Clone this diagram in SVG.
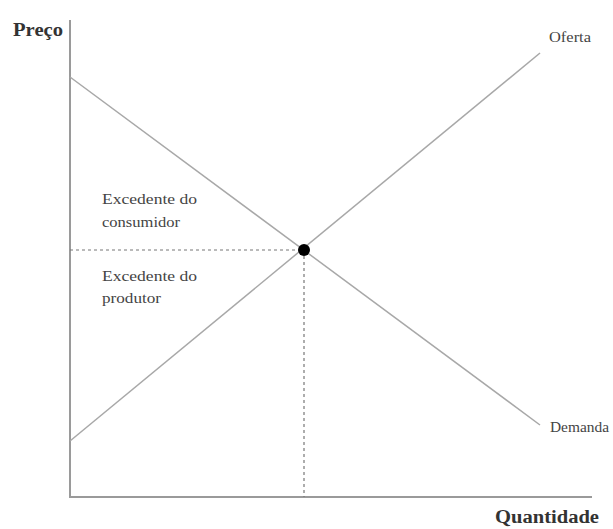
<svg xmlns="http://www.w3.org/2000/svg" width="613" height="529" viewBox="0 0 613 529">
<style>
.ax{stroke:#9a9a9a;stroke-width:2;fill:none}
.ln{stroke:#a8a8a8;stroke-width:1.5;fill:none}
.dash{stroke:#777;stroke-width:1.2;stroke-dasharray:3,3;fill:none}
.t{font-family:"Liberation Serif",serif;font-size:14px;fill:#444}
.b{font-family:"Liberation Serif",serif;font-size:18px;font-weight:bold;fill:#333}
</style>
<rect width="613" height="529" fill="#fff"/>
<g id="axes">
<path class="ax" d="M70,20 V497 H592"/>
<text class="b" x="13" y="36" textLength="50" lengthAdjust="spacingAndGlyphs">Preço</text>
<text class="b" x="495" y="523" textLength="104" lengthAdjust="spacingAndGlyphs">Quantidade</text>
</g>
<g id="connectors">
<line class="ln" x1="70" y1="77" x2="540" y2="425"/>
<line class="ln" x1="70" y1="441" x2="540" y2="53"/>
<line class="dash" x1="70" y1="250" x2="304" y2="250"/>
<line class="dash" x1="304" y1="250" x2="304" y2="497"/>
</g>
<g id="equilibrium"><circle cx="304" cy="250" r="6" fill="#000"/></g>
<g id="oferta"><text class="t" x="549" y="42" textLength="42" lengthAdjust="spacingAndGlyphs">Oferta</text></g>
<g id="demanda"><text class="t" x="550" y="432" textLength="59" lengthAdjust="spacingAndGlyphs">Demanda</text></g>
<g id="consumidor"><text class="t" x="102" y="204" textLength="95" lengthAdjust="spacingAndGlyphs">Excedente  do</text><text class="t" x="102" y="227" textLength="78" lengthAdjust="spacingAndGlyphs">consumidor</text></g>
<g id="produtor"><text class="t" x="102" y="281" textLength="95" lengthAdjust="spacingAndGlyphs">Excedente  do</text><text class="t" x="102" y="303" textLength="59" lengthAdjust="spacingAndGlyphs">produtor</text></g>
</svg>
